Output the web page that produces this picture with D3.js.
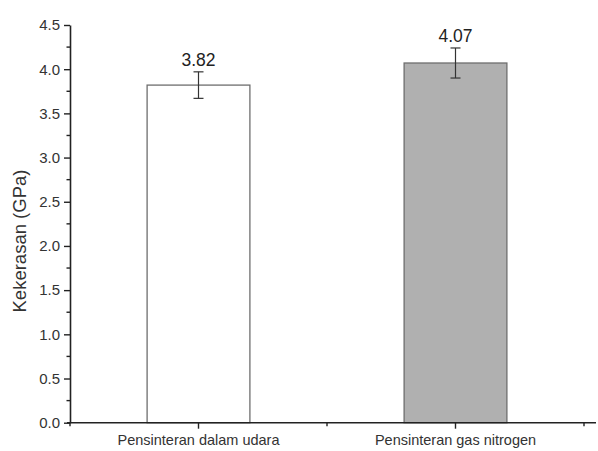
<!DOCTYPE html>
<html><head><meta charset="utf-8">
<script src="https://cdn.jsdelivr.net/npm/d3@7"></script>
<style>body{margin:0;background:#fff}svg{display:block}text{font-family:"Liberation Sans",Arial,sans-serif}</style>
</head><body>
<script>
const categories = ["Pensinteran dalam udara", "Pensinteran gas nitrogen"];
const values = [3.82, 4.07];
const errors = [0.15, 0.17];
const fills = ["#ffffff", "#b0b0b0"];
const yTicks = [0, 0.5, 1.0, 1.5, 2.0, 2.5, 3.0, 3.5, 4.0, 4.5];
const yMinor = [0.25, 0.75, 1.25, 1.75, 2.25, 2.75, 3.25, 3.75, 4.25];

const W = 598, H = 451;
const m = {left: 70, top: 25, bottom: 28};
const svg = d3.select("body").append("svg").attr("width", W).attr("height", H);
const y = d3.scaleLinear().domain([0, 4.5]).range([H - m.bottom - 0.3, m.top]);
const x = d3.scaleBand().domain(categories).range([70, 584]).paddingInner(0.6).paddingOuter(0.3);
const x0 = 70, xEnd = 596;

// bars
svg.selectAll("rect.bar").data(values).join("rect")
  .attr("x", (d, i) => x(categories[i]))
  .attr("width", x.bandwidth())
  .attr("y", d => y(d))
  .attr("height", d => y(0) - y(d))
  .attr("fill", (d, i) => fills[i])
  .attr("stroke", "#6e6e6e").attr("stroke-width", 1.3);

// error bars
const cx = i => x(categories[i]) + x.bandwidth() / 2;
values.forEach((v, i) => {
  const g = svg.append("g").attr("stroke", "#333").attr("stroke-width", 1.2);
  g.append("line").attr("x1", cx(i)).attr("x2", cx(i)).attr("y1", y(v + errors[i])).attr("y2", y(v - errors[i]));
  [v + errors[i], v - errors[i]].forEach(e => g.append("line").attr("x1", cx(i) - 5).attr("x2", cx(i) + 5).attr("y1", y(e)).attr("y2", y(e)));
  svg.append("text").attr("x", cx(i)).attr("y", y(v + errors[i]) - 6).attr("text-anchor", "middle")
    .attr("font-size", 17.5).attr("fill", "#222").text(v.toFixed(2));
});

// y axis
const yAxis = svg.append("g").attr("transform", `translate(${x0},0)`)
  .call(d3.axisLeft(y).tickValues(yTicks).tickFormat(d3.format(".1f")).tickSizeInner(6).tickSizeOuter(0));
yAxis.select(".domain").attr("stroke", "#222").attr("stroke-width", 1.6);
yAxis.selectAll(".tick line").attr("stroke", "#222").attr("stroke-width", 1.4);
yAxis.selectAll(".tick text").attr("font-size", 15).attr("fill", "#333").attr("x", -10);
svg.append("g").selectAll("line").data(yMinor).join("line")
  .attr("x1", x0 - 3.5).attr("x2", x0).attr("y1", d => y(d)).attr("y2", d => y(d))
  .attr("stroke", "#222").attr("stroke-width", 1.4);

// x axis
const xAxis = svg.append("g").attr("transform", `translate(0,${y(0)})`)
  .call(d3.axisBottom(x).tickSizeInner(6).tickSizeOuter(0).tickPadding(6));
xAxis.select(".domain").attr("d", `M${x0 - 3},0H${xEnd}`).attr("stroke", "#222").attr("stroke-width", 1.6);
xAxis.selectAll(".tick line").attr("stroke", "#222").attr("stroke-width", 1.4);
xAxis.selectAll(".tick text").attr("font-size", 14.5).attr("fill", "#333");
const xMinor = [x0, (cx(0) + cx(1)) / 2, 584];
svg.append("g").selectAll("line").data(xMinor).join("line")
  .attr("x1", d => d).attr("x2", d => d).attr("y1", y(0)).attr("y2", y(0) + 3.5)
  .attr("stroke", "#222").attr("stroke-width", 1.4);

// y label
svg.append("text").attr("transform", `translate(26,241) rotate(-90)`)
  .attr("text-anchor", "middle").attr("font-size", 18.5).attr("fill", "#333").text("Kekerasan (GPa)");
</script>
</body></html>
